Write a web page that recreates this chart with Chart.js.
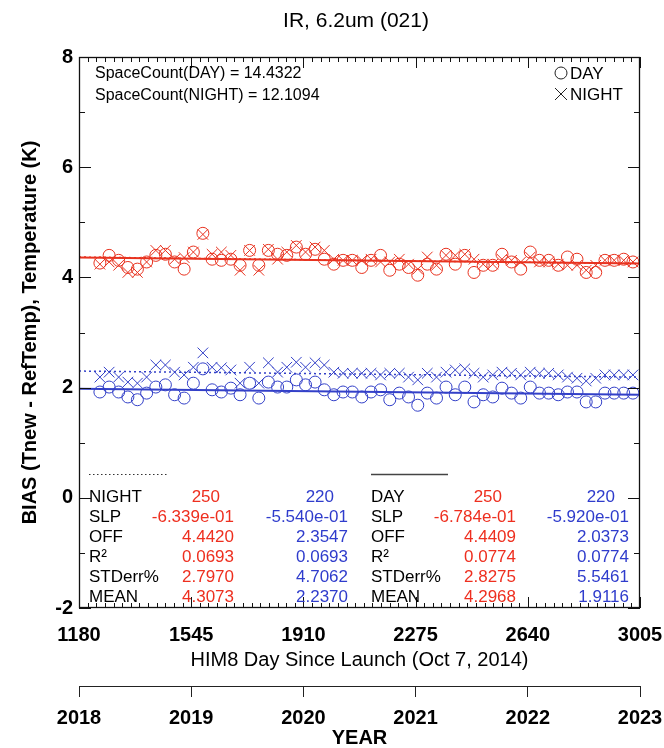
<!DOCTYPE html>
<html>
<head>
<meta charset="utf-8">
<script src="https://cdn.jsdelivr.net/npm/chart.js@4/dist/chart.umd.min.js"></script>
<style>
html,body{margin:0;padding:0;background:#fff;}
#wrap{position:relative;width:664px;height:748px;}
</style>
</head>
<body>
<div id="wrap"><canvas id="c" width="664" height="748"></canvas></div>
<script>
// ---------- DATA ----------
const days = [1248,1278,1309,1339,1370,1400,1430,1461,1491,1522,1552,1583,1613,1643,1674,1704,1735,1765,1796,1826,1856,1887,1917,1948,1978,2009,2039,2069,2100,2130,2161,2191,2222,2252,2282,2313,2343,2374,2404,2435,2465,2495,2526,2556,2587,2617,2648,2678,2708,2739,2769,2800,2830,2861,2891,2921,2952,2982];
const dayRed = [4.26,4.40,4.31,4.18,4.15,4.28,4.40,4.42,4.28,4.15,4.46,4.80,4.33,4.31,4.33,4.22,4.49,4.22,4.49,4.42,4.40,4.55,4.42,4.51,4.33,4.24,4.31,4.31,4.18,4.31,4.40,4.13,4.24,4.18,4.04,4.24,4.15,4.42,4.24,4.40,4.09,4.22,4.22,4.42,4.28,4.15,4.46,4.31,4.31,4.22,4.37,4.33,4.09,4.09,4.31,4.31,4.33,4.28];
const nightRed = [4.24,4.28,4.22,4.09,4.09,4.28,4.49,4.49,4.33,4.36,4.46,4.78,4.42,4.46,4.40,4.13,4.49,4.13,4.51,4.33,4.46,4.58,4.46,4.55,4.49,4.33,4.31,4.31,4.31,4.33,4.28,4.28,4.33,4.24,4.15,4.37,4.22,4.40,4.40,4.42,4.33,4.24,4.24,4.33,4.31,4.28,4.37,4.28,4.28,4.24,4.22,4.22,4.13,4.22,4.31,4.31,4.31,4.28];
const dayBlue = [1.92,2.01,1.92,1.83,1.78,1.90,2.01,2.05,1.87,1.81,2.08,2.34,1.96,1.92,1.99,1.87,2.08,1.81,2.10,2.01,2.01,2.14,2.05,2.10,1.96,1.87,1.92,1.92,1.83,1.92,1.96,1.78,1.90,1.83,1.68,1.90,1.81,2.01,1.87,2.01,1.74,1.87,1.83,1.99,1.90,1.81,2.01,1.90,1.90,1.87,1.92,1.92,1.74,1.74,1.90,1.90,1.90,1.90];
const nightBlue = [2.19,2.28,2.19,2.10,2.08,2.19,2.41,2.41,2.28,2.23,2.37,2.63,2.37,2.36,2.32,2.08,2.37,2.08,2.45,2.28,2.37,2.46,2.37,2.45,2.41,2.28,2.26,2.26,2.26,2.26,2.23,2.26,2.26,2.19,2.14,2.26,2.19,2.28,2.32,2.34,2.26,2.19,2.23,2.28,2.26,2.23,2.28,2.26,2.26,2.23,2.19,2.17,2.12,2.17,2.23,2.23,2.23,2.23];

const trendDays = [1180, 3005];
const trendDayRed = [4.36, 4.25];
const trendNightRed = [4.37, 4.25];
const trendDayBlue = [1.98, 1.87];
const trendNightBlue = [2.30, 2.19];

const xTickLabels = ['1180','1545','1910','2275','2640','3005'];
const yTickLabels = ['-2','0','2','4','6','8'];
const yearTickLabels = ['2018','2019','2020','2021','2022','2023'];

const titleText = 'IR, 6.2um (021)';
const xTitle = 'HIM8 Day Since Launch (Oct 7, 2014)';
const yTitle = 'BIAS (Tnew - RefTemp), Temperature (K)';
const yearTitle = 'YEAR';
const spaceCountLines = ['SpaceCount(DAY) = 14.4322', 'SpaceCount(NIGHT) = 12.1094'];
const legendLabels = ['DAY', 'NIGHT'];

const nightRowLabels = ['NIGHT','SLP','OFF','R\u00B2','STDerr%','MEAN'];
const nightRedCol = ['250','-6.339e-01','4.4420','0.0693','2.7970','4.3073'];
const nightBlueCol = ['220','-5.540e-01','2.3547','0.0693','4.7062','2.2370'];
const dayRowLabels = ['DAY','SLP','OFF','R\u00B2','STDerr%','MEAN'];
const dayRedCol = ['250','-6.784e-01','4.4409','0.0774','2.8275','4.2968'];
const dayBlueCol = ['220','-5.920e-01','2.0373','0.0774','5.5461','1.9116'];

// ---------- STYLE ----------
const RED = '#e8321f';
const BLUE = '#3340c8';
const TXT_RED = '#ee2f1f';
const TXT_BLUE = '#2f3ccc';
const FAM = '"Liberation Sans", Arial, Helvetica, sans-serif';

const pts = (xs, ys) => xs.map((x, i) => ({x: x, y: ys[i]}));

const deco = {
  id: 'deco',
  afterDraw(chart) {
    const {ctx, chartArea: a, scales: {x, y}} = chart;
    ctx.save();
    // frame
    ctx.strokeStyle = '#111';
    ctx.lineWidth = 1.3;
    ctx.strokeRect(a.left + 0.5, a.top + 0.5, a.right - a.left - 1, a.bottom - a.top - 1);
    ctx.lineWidth = 1;
    ctx.beginPath();
    const xt = x.ticks.map(t => t.value);
    const sub = 13;
    for (let i = 0; i < xt.length; i++) {
      const px = Math.round(x.getPixelForValue(xt[i])) + 0.5;
      ctx.moveTo(px, a.bottom); ctx.lineTo(px, a.bottom - 11);
      ctx.moveTo(px, a.top); ctx.lineTo(px, a.top + 11);
      if (i < xt.length - 1) {
        for (let k = 1; k < sub; k++) {
          const v = xt[i] + (xt[i + 1] - xt[i]) * k / sub;
          const q = Math.round(x.getPixelForValue(v)) + 0.5;
          ctx.moveTo(q, a.bottom); ctx.lineTo(q, a.bottom - 5);
          ctx.moveTo(q, a.top); ctx.lineTo(q, a.top + 5);
        }
      }
    }
    const yt = y.ticks.map(t => t.value);
    for (let i = 0; i < yt.length; i++) {
      const py = Math.round(y.getPixelForValue(yt[i])) + 0.5;
      ctx.moveTo(a.left, py); ctx.lineTo(a.left + 12, py);
      ctx.moveTo(a.right, py); ctx.lineTo(a.right - 12, py);
      if (i < yt.length - 1) {
        const q = Math.round(y.getPixelForValue((yt[i] + yt[i + 1]) / 2)) + 0.5;
        ctx.moveTo(a.left, q); ctx.lineTo(a.left + 6, q);
        ctx.moveTo(a.right, q); ctx.lineTo(a.right - 6, q);
      }
    }
    ctx.stroke();

    const txt = (s, tx, ty, align, color, font) => {
      ctx.font = font; ctx.fillStyle = color; ctx.textAlign = align; ctx.textBaseline = 'middle';
      ctx.fillText(s, tx, ty);
    };
    // title
    txt(titleText, 356, 21, 'center', '#000', '21px ' + FAM);
    // space count
    txt(spaceCountLines[0], 95, 74, 'left', '#000', '16px ' + FAM);
    txt(spaceCountLines[1], 95, 96, 'left', '#000', '16px ' + FAM);
    // legend
    ctx.strokeStyle = '#222'; ctx.lineWidth = 1;
    ctx.beginPath(); ctx.arc(561, 73, 6, 0, Math.PI * 2); ctx.stroke();
    ctx.beginPath();
    ctx.moveTo(555, 88); ctx.lineTo(567, 100);
    ctx.moveTo(567, 88); ctx.lineTo(555, 100);
    ctx.stroke();
    txt(legendLabels[0], 570, 74, 'left', '#000', '17px ' + FAM);
    txt(legendLabels[1], 570, 95, 'left', '#000', '17px ' + FAM);
    // sample lines
    ctx.strokeStyle = '#333'; ctx.lineWidth = 1.2;
    ctx.setLineDash([1.5, 2.5]);
    ctx.beginPath(); ctx.moveTo(89, 474.5); ctx.lineTo(168, 474.5); ctx.stroke();
    ctx.setLineDash([]);
    ctx.strokeStyle = '#444'; ctx.lineWidth = 1.5;
    ctx.beginPath(); ctx.moveTo(371, 474.5); ctx.lineTo(448, 474.5); ctx.stroke();
    // table
    const rows = [497, 517, 537, 557, 577, 597];
    const F = '17px ' + FAM;
    const cols = [
      {labels: nightRowLabels, lx: 89, red: nightRedCol, rx: 234, blue: nightBlueCol, bx: 348},
      {labels: dayRowLabels, lx: 371, red: dayRedCol, rx: 516, blue: dayBlueCol, bx: 629}
    ];
    cols.forEach(c => {
      rows.forEach((ry, i) => {
        txt(c.labels[i], c.lx, ry, 'left', '#000', F);
        const off = i === 0 ? 14 : 0;
        txt(c.red[i], c.rx - off, ry, 'right', TXT_RED, F);
        txt(c.blue[i], c.bx - off, ry, 'right', TXT_BLUE, F);
      });
    });
    ctx.restore();
  }
};

const lineDs = (ys, color, dash, w) => ({
  data: pts(trendDays, ys), showLine: true, borderColor: color, borderWidth: w,
  borderDash: dash, pointRadius: 0, fill: false
});
const markDs = (ys, color, style, r) => ({
  data: pts(days, ys), pointStyle: style, pointRadius: r, borderColor: color,
  pointBorderColor: color, pointBackgroundColor: 'rgba(0,0,0,0)', backgroundColor: 'rgba(0,0,0,0)',
  pointBorderWidth: 1, borderWidth: 1, showLine: false
});
const noPadH = s => { s.paddingLeft = 0; s.paddingRight = 0; };

new Chart(document.getElementById('c'), {
  type: 'scatter',
  data: {
    datasets: [
      lineDs(trendDayRed, RED, [], 2),
      lineDs(trendNightRed, RED, [2, 3], 1.5),
      lineDs(trendDayBlue, BLUE, [], 2),
      lineDs(trendNightBlue, BLUE, [2, 3], 1.5),
      markDs(dayRed, RED, 'circle', 6),
      markDs(nightRed, RED, 'crossRot', 7.5),
      markDs(dayBlue, BLUE, 'circle', 6),
      markDs(nightBlue, BLUE, 'crossRot', 7.5)
    ]
  },
  options: {
    responsive: false,
    animation: false,
    devicePixelRatio: 1,
    layout: {padding: {top: 57, right: 24, left: 0, bottom: 0}},
    plugins: {legend: {display: false}, tooltip: {enabled: false}, title: {display: false}},
    scales: {
      x: {
        type: 'linear', position: 'bottom', weight: 0, min: 1180, max: 3005,
        ticks: {stepSize: 365, autoSkip: false, maxRotation: 0, padding: 15, color: '#000',
          font: {family: FAM, size: 20, weight: 'bold'},
          callback: (v, i) => xTickLabels[i]},
        grid: {display: false, drawTicks: false},
        border: {display: false},
        title: {display: true, text: xTitle, color: '#000', font: {family: FAM, size: 20}, padding: {top: 0, bottom: 14}},
        afterFit: s => { s.height = 78; noPadH(s); }
      },
      x2: {
        type: 'linear', position: 'bottom', weight: 1, min: 2018, max: 2023,
        ticks: {stepSize: 1, autoSkip: false, maxRotation: 0, padding: 9, color: '#000',
          font: {family: FAM, size: 20, weight: 'bold'},
          callback: (v, i) => yearTickLabels[i]},
        grid: {drawOnChartArea: false, drawTicks: true, tickLength: 11, color: '#222', lineWidth: 1},
        border: {display: true, color: '#222', width: 1},
        title: {display: true, text: yearTitle, color: '#000', font: {family: FAM, size: 20, weight: 'bold', lineHeight: 1}, padding: {top: 0, bottom: 0}},
        afterFit: s => { s.height = 62; noPadH(s); }
      },
      y: {
        min: -2, max: 8,
        ticks: {stepSize: 2, padding: 6, color: '#000', font: {family: FAM, size: 20, weight: 'bold'},
          callback: (v, i) => yTickLabels[i]},
        grid: {display: false, drawTicks: false},
        border: {display: false},
        title: {display: true, text: yTitle, color: '#000', font: {family: FAM, size: 20, weight: 'bold'}, padding: {top: 18, bottom: 0}},
        afterFit: s => { s.width = 79; s.paddingTop = 0; s.paddingBottom = 0; }
      }
    }
  },
  plugins: [deco]
});
</script>
</body>
</html>
